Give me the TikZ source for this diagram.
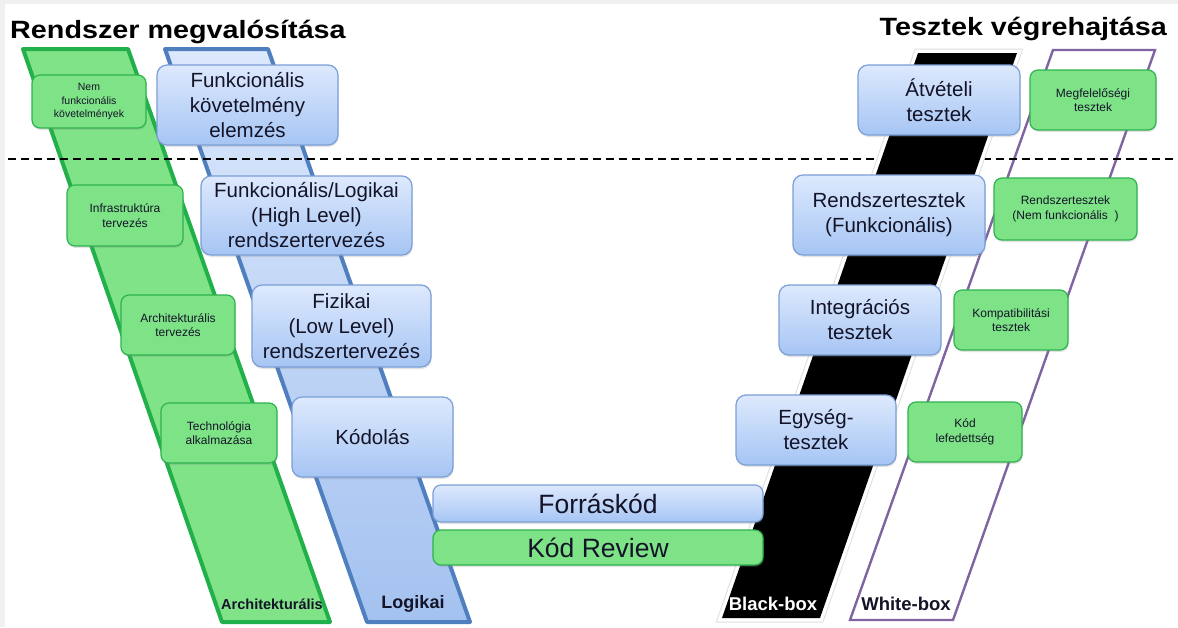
\documentclass[tikz,border=0pt]{standalone}
\usepackage{fontspec}
\setmainfont{Liberation Sans}
\newfontfamily\titlefont{Liberation Sans Bold}[FakeStretch=1.15]
\usetikzlibrary{shadows}

\definecolor{bandgreen}{HTML}{80E388}
\definecolor{bandgreenline}{HTML}{22B04B}
\definecolor{bandbluetop}{HTML}{DCE8FC}
\definecolor{bandbluebot}{HTML}{A4C2F0}
\definecolor{bandblueline}{HTML}{4F7FBE}
\definecolor{boxbluetop}{HTML}{DDE9FD}
\definecolor{boxbluebot}{HTML}{A6C5F4}
\definecolor{boxblueline}{HTML}{7B9FD6}
\definecolor{boxgreen}{HTML}{7EE387}
\definecolor{boxgreenline}{HTML}{2DB34F}
\definecolor{wbline}{HTML}{8064A2}
\definecolor{inktext}{HTML}{141428}

\tikzset{
  softshadow/.style={drop shadow={shadow xshift=0.6pt, shadow yshift=-2pt, opacity=0.22}},
  bluebox/.style={draw=boxblueline, line width=1.2pt, rounded corners=10pt,
    top color=boxbluetop, bottom color=boxbluebot, inner sep=0pt, align=center,
    text=inktext, font=\fontsize{20.5}{25}\selectfont, softshadow},
  greenbox/.style={draw=boxgreenline, line width=1.2pt, rounded corners=8pt,
    fill=boxgreen, inner sep=0pt, align=center, text=inktext,
    font=\fontsize{12}{14.5}\selectfont, softshadow},
  bandlabel/.style={inner sep=0pt, font=\bfseries},
  titletext/.style={inner sep=0pt, anchor=base, font=\titlefont\fontsize{25}{30}\selectfont}
}

\begin{document}
\begin{tikzpicture}[x=1pt, y=-1pt]
  % page frame
  \fill[gray!12] (0,0) rectangle (1178,627);
  \fill[white] (5,4) rectangle (1178,627);
  \useasboundingbox (0,0) rectangle (1178,627);

  % titles
  \node[titletext, anchor=base west] (ttl) at (10,38) {Rendszer megvalósítása};
  \node[titletext, anchor=base east] (ttr) at (1167,35) {Tesztek végrehajtása};

  % architectural band
  \draw[bandgreenline, line width=4pt, fill=bandgreen, line join=round]
    (23,49) -- (128,49) -- (330,622) -- (222,622) -- cycle;
  % logical band
  \draw[bandblueline, line width=4pt, top color=bandbluetop, bottom color=bandbluebot, line join=round]
    (165,49) -- (268,49) -- (470,622) -- (367,622) -- cycle;
  % white-box band
  \draw[wbline, line width=2.4pt]
    (1053,50) -- (1155,50) -- (953,620) -- (850,620) -- cycle;

  % level separator
  \coordinate (sepL) at (8,159);
  \coordinate (sepR) at (1178,159);
  \draw[black, line width=1.6pt, dash pattern=on 8pt off 5pt] (sepL) -- (sepR);

  % black-box band with its white rim
  \draw[gray!25, line width=9pt, line join=miter]
    (918,53) -- (1017,53) -- (820,618) -- (722,618) -- cycle;
  \draw[white, line width=7pt, line join=miter]
    (918,53) -- (1017,53) -- (820,618) -- (722,618) -- cycle;
  \fill[black] (918,53) -- (1017,53) -- (820,618) -- (722,618) -- cycle;

  % band labels
  \node[bandlabel, text=inktext, font=\bfseries\fontsize{14.5}{16}\selectfont] (lArch) at (272,604) {Architekturális};
  \node[bandlabel, text=inktext, font=\bfseries\fontsize{18}{20}\selectfont] (lLog) at (413,604) {Logikai};
  \node[bandlabel, text=white, font=\bfseries\fontsize{18.5}{20}\selectfont] (lBlack) at (773,604) {Black-box};
  \node[bandlabel, text=inktext, font=\bfseries\fontsize{18.5}{20}\selectfont] (lWhite) at (906,604) {White-box};

  % left green steps
  \node[greenbox, minimum width=114pt, minimum height=53pt, font=\fontsize{10.5}{13.5}\selectfont]
    (nf) at (89,101.5) {Nem\\funkcionális\\követelmények};
  \node[greenbox, minimum width=116pt, minimum height=61pt] (inf) at (125,215.5) {Infrastruktúra\\tervezés};
  \node[greenbox, minimum width=114pt, minimum height=60pt] (arch) at (178,325) {Architekturális\\tervezés};
  \node[greenbox, minimum width=116pt, minimum height=60pt] (tech) at (219,433) {Technológia\\alkalmazása};

  % left blue steps
  \node[bluebox, minimum width=181pt, minimum height=80pt] (fke) at (247.5,105) {Funkcionális\\követelmény\\elemzés};
  \node[bluebox, minimum width=211pt, minimum height=79pt] (hl) at (306.5,215.5) {Funkcionális/Logikai\\(High Level)\\rendszertervezés};
  \node[bluebox, minimum width=179pt, minimum height=82pt] (ll) at (341.5,326) {Fizikai\\(Low Level)\\rendszertervezés};
  \node[bluebox, minimum width=161pt, minimum height=80pt] (kod) at (372.5,437) {Kódolás};

  % bottom of the V
  \node[bluebox, rounded corners=8pt, minimum width=330pt, minimum height=37pt, font=\fontsize{26.5}{30}\selectfont]
    (src) at (598,503.5) {Forráskód};
  \node[greenbox, minimum width=330pt, minimum height=35pt, font=\fontsize{26.5}{30}\selectfont]
    (rev) at (598,547.5) {Kód Review};

  % right blue steps
  \node[bluebox, minimum width=162pt, minimum height=70pt] (atv) at (939,100) {Átvételi\\tesztek};
  \node[bluebox, minimum width=192pt, minimum height=80pt] (rtf) at (889,215) {Rendszertesztek\\(Funkcionális)};
  \node[bluebox, minimum width=162pt, minimum height=70pt] (int) at (860,320) {Integrációs\\tesztek};
  \node[bluebox, minimum width=160pt, minimum height=70pt] (egy) at (816,430) {Egység-\\tesztek};

  % right green steps
  \node[greenbox, minimum width=126pt, minimum height=60pt] (megf) at (1093,100) {Megfelelőségi\\tesztek};
  \node[greenbox, minimum width=143pt, minimum height=62pt] (rtn) at (1065.5,209) {Rendszertesztek\\(Nem funkcionális\ \ )};
  \node[greenbox, minimum width=114pt, minimum height=60pt] (komp) at (1011,320) {Kompatibilitási\\tesztek};
  \node[greenbox, minimum width=114pt, minimum height=60pt] (lef) at (965,432) {Kód\\lefedettség};
\end{tikzpicture}
\end{document}
